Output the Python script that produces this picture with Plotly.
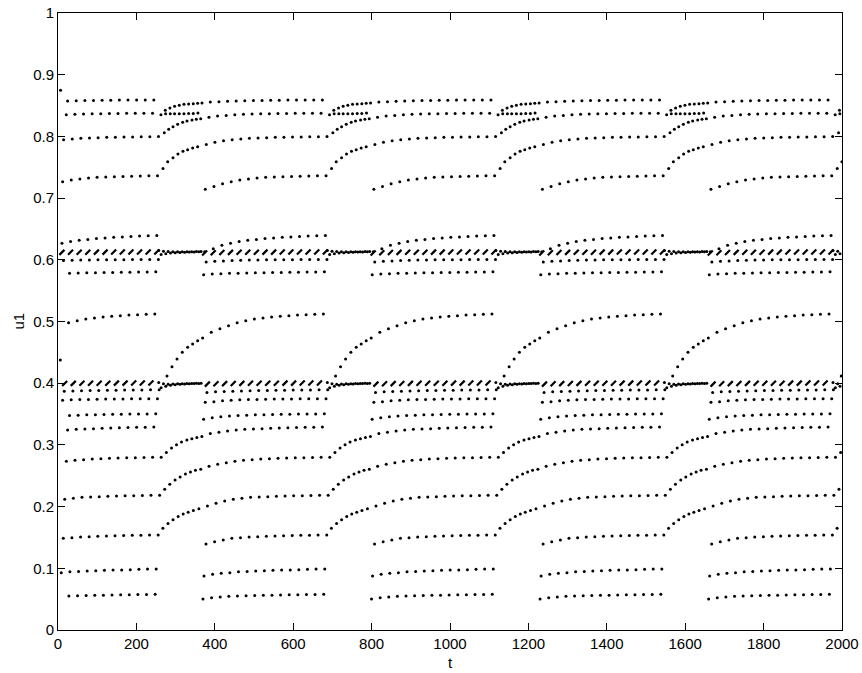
import numpy as np
import plotly.graph_objects as go

# ---------------- data ----------------
# start times of the fast (dense) transition phases; the pattern repeats
TRANSITION_STARTS = [255, 685, 1115, 1545, 1975]
FLAT_DT = 22.0          # sample spacing on the slow branches
T_MIN, T_MAX = 8.0, 2000.0

# slow branches before each transition: first sample offset (relative to the
# transition start) and the u1 values of successive samples
flat_A_tau0 = -296.5
flat_A = [0.8557, 0.8563, 0.8568, 0.8574, 0.8578, 0.8580, 0.8583, 0.8585,
          0.8586, 0.8588, 0.8589, 0.8590, 0.8590, 0.8590]
flat_B_tau0 = -299.9
flat_B = [0.8309, 0.8330, 0.8340, 0.8352, 0.8358, 0.8363, 0.8366, 0.8368,
          0.8370, 0.8372, 0.8374, 0.8375, 0.8376, 0.8377]
flat_C_tau0 = -306.7
flat_C = [0.7870, 0.7904, 0.7930, 0.7947, 0.7958, 0.7969, 0.7974, 0.7980,
          0.7985, 0.7987, 0.7990, 0.7992, 0.7994, 0.7996, 0.8000]
flat_D_tau0 = -309.2
flat_D = [0.7142, 0.7190, 0.7234, 0.7266, 0.7293, 0.7309, 0.7326, 0.7336,
          0.7342, 0.7347, 0.7352, 0.7356, 0.7358, 0.7361, 0.7363]
flat_M1_tau0 = -310.9
flat_M1 = [0.6130, 0.6180, 0.6235, 0.6270, 0.6295, 0.6315, 0.6330, 0.6345,
           0.6355, 0.6365, 0.6370, 0.6378, 0.6385, 0.6390, 0.6395]
flat_M2_tau0 = -311.0      # slanted double samples
flat_M2 = [0.6110, 0.6115, 0.6118, 0.6120, 0.6121, 0.6122, 0.6123, 0.6124,
           0.6124, 0.6125, 0.6125, 0.6126, 0.6126, 0.6126, 0.6127]
flat_M3_tau0 = -307.0
flat_M3 = [0.5965, 0.5975, 0.5982, 0.5988, 0.5992, 0.5995, 0.5997, 0.5999,
           0.6000, 0.6001, 0.6002, 0.6003, 0.6004, 0.6004, 0.6005]
flat_M4_tau0 = -313.5
flat_M4 = [0.5757, 0.5768, 0.5775, 0.5780, 0.5784, 0.5787, 0.5790, 0.5792,
           0.5794, 0.5796, 0.5798, 0.5800, 0.5802, 0.5804, 0.5806]
flat_H_tau0 = -294.0
flat_H = [0.4824, 0.4884, 0.4932, 0.4981, 0.5013, 0.5040, 0.5057, 0.5073,
          0.5084, 0.5095, 0.5105, 0.5110, 0.5116, 0.5120]
flat_L1_tau0 = -304.0      # slanted double samples
flat_L1 = [0.3985, 0.3990, 0.3993, 0.3995, 0.3997, 0.3998, 0.3999, 0.4000,
           0.4000, 0.4001, 0.4001, 0.4002, 0.4002, 0.4002]
flat_L2_tau0 = -305.0
flat_L2 = [0.3849, 0.3860, 0.3866, 0.3870, 0.3874, 0.3877, 0.3880, 0.3882,
           0.3884, 0.3886, 0.3888, 0.3890, 0.3891, 0.3892, 0.3893]
flat_L3_tau0 = -309.3
flat_L3 = [0.3690, 0.3700, 0.3716, 0.3725, 0.3730, 0.3734, 0.3737, 0.3740,
           0.3742, 0.3744, 0.3745, 0.3746, 0.3747, 0.3748, 0.3749]
flat_L4_tau0 = -313.6
flat_L4 = [0.3414, 0.3441, 0.3457, 0.3468, 0.3476, 0.3482, 0.3487, 0.3490,
           0.3493, 0.3496, 0.3498, 0.3500, 0.3501, 0.3502, 0.3503]
flat_L5_tau0 = -296.5
flat_L5 = [0.3183, 0.3204, 0.3225, 0.3242, 0.3252, 0.3258, 0.3263, 0.3269,
           0.3274, 0.3278, 0.3282, 0.3285, 0.3288, 0.3290]
flat_P1_tau0 = -299.7
flat_P1 = [0.2653, 0.2685, 0.2712, 0.2734, 0.2750, 0.2761, 0.2771, 0.2777,
           0.2782, 0.2786, 0.2790, 0.2793, 0.2796, 0.2798, 0.2800]
flat_P2_tau0 = -303.8
flat_P2 = [0.2010, 0.2053, 0.2091, 0.2118, 0.2134, 0.2150, 0.2156, 0.2161,
           0.2166, 0.2172, 0.2175, 0.2177, 0.2180, 0.2182, 0.2183]
flat_P3_tau0 = -307.5
flat_P3 = [0.1394, 0.1432, 0.1459, 0.1486, 0.1497, 0.1508, 0.1513, 0.1518,
           0.1524, 0.1529, 0.1531, 0.1535, 0.1537, 0.1540, 0.1541]
flat_P4_tau0 = -312.6
flat_P4 = [0.0875, 0.0902, 0.0918, 0.0929, 0.0945, 0.0950, 0.0956, 0.0961,
           0.0967, 0.0972, 0.0974, 0.0978, 0.0983, 0.0987, 0.0989]
flat_P5_tau0 = -315.2
flat_P5 = [0.0502, 0.0524, 0.0535, 0.0546, 0.0551, 0.0556, 0.0560, 0.0562,
           0.0565, 0.0567, 0.0570, 0.0572, 0.0575, 0.0577, 0.0578]

# fast samples during each transition: offsets from the transition start and u1
tr_D_tau = [12.8, 24.8, 38.4, 51.0, 63.8, 75.7, 88.4, 101.2]
tr_D_u = [0.7480, 0.7590, 0.7655, 0.7715, 0.7760, 0.7785, 0.7812, 0.7834]
tr_C_tau = [16.2, 27.3, 38.4, 50.3, 63.0, 74.0, 86.8, 97.9, 109.0]
tr_C_u = [0.8060, 0.8114, 0.8157, 0.8195, 0.8228, 0.8250, 0.8266, 0.8277, 0.8287]
tr_B_tau = [7.6, 19.5, 31.4, 42.4, 54.4, 66.3, 78.2, 90.1, 102.0]
tr_B_u = [0.8352, 0.8368, 0.8368, 0.8368, 0.8368, 0.8368, 0.8370, 0.8372, 0.8379]
tr_BA_tau = [18.6, 30.5, 42.4, 54.4, 66.3, 78.2, 90.1, 101.2, 112.3]
tr_BA_u = [0.8422, 0.8460, 0.8487, 0.8503, 0.8520, 0.8525, 0.8530, 0.8536, 0.8541]
tr_Ma_tau = [2.0, 14.0, 26.0, 38.0, 50.0, 62.0, 74.0, 86.0, 98.0, 110.0]
tr_Ma_u = [0.6150, 0.6140, 0.6135, 0.6132, 0.6130, 0.6130, 0.6131, 0.6132, 0.6134, 0.6136]
tr_Mb_tau = [8.0, 20.0, 32.0, 44.0, 56.0, 68.0, 80.0, 92.0, 104.0]
tr_Mb_u = [0.6085, 0.6100, 0.6110, 0.6116, 0.6120, 0.6123, 0.6125, 0.6127, 0.6129]
tr_H_tau = [23.0, 35.8, 48.6, 62.1, 75.7, 88.4, 101.2, 114.0]
tr_H_u = [0.4117, 0.4268, 0.4392, 0.4500, 0.4581, 0.4635, 0.4690, 0.4733]
tr_La_tau = [2.0, 14.0, 26.0, 38.0, 50.0, 62.0, 74.0, 86.0, 98.0, 110.0]
tr_La_u = [0.4010, 0.3990, 0.3985, 0.3988, 0.3990, 0.3992, 0.3994, 0.3996, 0.3998, 0.4000]
tr_Lb_tau = [8.0, 20.0, 32.0, 44.0, 56.0, 68.0, 80.0, 92.0, 104.0]
tr_Lb_u = [0.3925, 0.3950, 0.3965, 0.3975, 0.3982, 0.3987, 0.3991, 0.3994, 0.3997]
tr_P1_tau = [21.5, 34.6, 47.3, 60.1, 73.7, 86.5, 99.2, 112.0]
tr_P1_u = [0.2877, 0.2950, 0.3004, 0.3045, 0.3078, 0.3099, 0.3120, 0.3137]
tr_P2_tau = [17.2, 30.1, 43.7, 56.5, 70.1, 82.9, 95.6, 109.2]
tr_P2_u = [0.2280, 0.2361, 0.2431, 0.2479, 0.2528, 0.2560, 0.2588, 0.2604]
tr_P3_tau = [12.5, 25.7, 38.5, 51.6, 64.4, 77.1, 90.3, 104.4]
tr_P3_u = [0.1648, 0.1726, 0.1788, 0.1840, 0.1880, 0.1910, 0.1937, 0.1966]

# isolated start-up samples near t = 0
start_t = [6.5, 5.9]
start_u = [0.8750, 0.4376]

x_ticks = [0, 200, 400, 600, 800, 1000, 1200, 1400, 1600, 1800, 2000]
y_ticks = [0, 0.1, 0.2, 0.3, 0.4, 0.5, 0.6, 0.7, 0.8, 0.9, 1]
y_tick_text = ["0", "0.1", "0.2", "0.3", "0.4", "0.5", "0.6", "0.7", "0.8", "0.9", "1"]

# ---------------- assemble ----------------
dot_rows = [
    (flat_A_tau0, flat_A), (flat_B_tau0, flat_B), (flat_C_tau0, flat_C),
    (flat_D_tau0, flat_D), (flat_M1_tau0, flat_M1), (flat_M3_tau0, flat_M3),
    (flat_M4_tau0, flat_M4), (flat_H_tau0, flat_H), (flat_L2_tau0, flat_L2),
    (flat_L3_tau0, flat_L3), (flat_L4_tau0, flat_L4), (flat_L5_tau0, flat_L5),
    (flat_P1_tau0, flat_P1), (flat_P2_tau0, flat_P2), (flat_P3_tau0, flat_P3),
    (flat_P4_tau0, flat_P4), (flat_P5_tau0, flat_P5),
]
slant_rows = [(flat_M2_tau0, flat_M2), (flat_L1_tau0, flat_L1)]
fast_rows = [
    (tr_D_tau, tr_D_u), (tr_C_tau, tr_C_u), (tr_B_tau, tr_B_u),
    (tr_BA_tau, tr_BA_u), (tr_Ma_tau, tr_Ma_u), (tr_Mb_tau, tr_Mb_u),
    (tr_H_tau, tr_H_u), (tr_La_tau, tr_La_u), (tr_Lb_tau, tr_Lb_u),
    (tr_P1_tau, tr_P1_u), (tr_P2_tau, tr_P2_u), (tr_P3_tau, tr_P3_u),
]

dx, dy = [], []
sx, sy = [], []
for T in TRANSITION_STARTS:
    for tau0, vals in dot_rows:
        for i, v in enumerate(vals):
            dx.append(T + tau0 + i * FLAT_DT)
            dy.append(v)
    for tau0, vals in slant_rows:
        for i, v in enumerate(vals):
            sx.append(T + tau0 + i * FLAT_DT)
            sy.append(v)
    for taus, vals in fast_rows:
        for tau, v in zip(taus, vals):
            dx.append(T + tau)
            dy.append(v)
dx += start_t
dy += start_u

dx = np.array(dx); dy = np.array(dy)
sx = np.array(sx); sy = np.array(sy)
keep = ((dx >= T_MIN) | np.isin(dx, start_t)) & (dx <= T_MAX)
dx, dy = dx[keep], dy[keep]
keep = (sx >= T_MIN) & (sx <= T_MAX)
sx, sy = sx[keep], sy[keep]

fig = go.Figure()
fig.add_trace(go.Scatter(
    x=dx, y=dy, mode="markers",
    marker=dict(symbol="circle", size=3, color="black", line=dict(width=0)),
    hoverinfo="skip", showlegend=False))
fig.add_trace(go.Scatter(
    x=sx, y=sy, mode="markers",
    marker=dict(symbol="line-ne", size=5, color="black",
                line=dict(width=2.2, color="black")),
    hoverinfo="skip", showlegend=False))

axis_font = dict(family="Liberation Sans, Arial, sans-serif", size=15, color="black")
fig.update_layout(
    width=862, height=673,
    margin=dict(l=58, r=20, t=13, b=43, pad=0, autoexpand=False),
    paper_bgcolor="white", plot_bgcolor="white",
    font=axis_font,
    showlegend=False,
    hovermode=False,
    annotations=[
        dict(text="t", xref="paper", yref="paper", x=0.5, y=-0.053,
             xanchor="center", yanchor="middle", showarrow=False, font=axis_font),
        dict(text="u1", xref="paper", yref="paper", x=-0.051, y=0.5,
             xanchor="center", yanchor="middle", textangle=-90,
             showarrow=False, font=axis_font),
    ],
)
fig.update_xaxes(
    range=[0, 2000], tickmode="array", tickvals=x_ticks, automargin=False,
    ticks="inside", ticklen=7, tickwidth=1, tickcolor="black",
    showline=True, linecolor="black", linewidth=1, mirror="ticks",
    showgrid=False, zeroline=False, tickfont=axis_font,
)
fig.update_yaxes(
    range=[0, 1], tickmode="array", tickvals=y_ticks, ticktext=y_tick_text,
    automargin=False,
    ticks="inside", ticklen=7, tickwidth=1, tickcolor="black",
    showline=True, linecolor="black", linewidth=1, mirror="ticks",
    showgrid=False, zeroline=False, tickfont=axis_font,
)
fig.write_html(
    "out.html",
    config={"displayModeBar": False, "staticPlot": True},
    post_script="document.body.style.margin='0px';"
                "document.body.style.padding='0px';"
                "document.body.style.overflow='hidden';",
)
